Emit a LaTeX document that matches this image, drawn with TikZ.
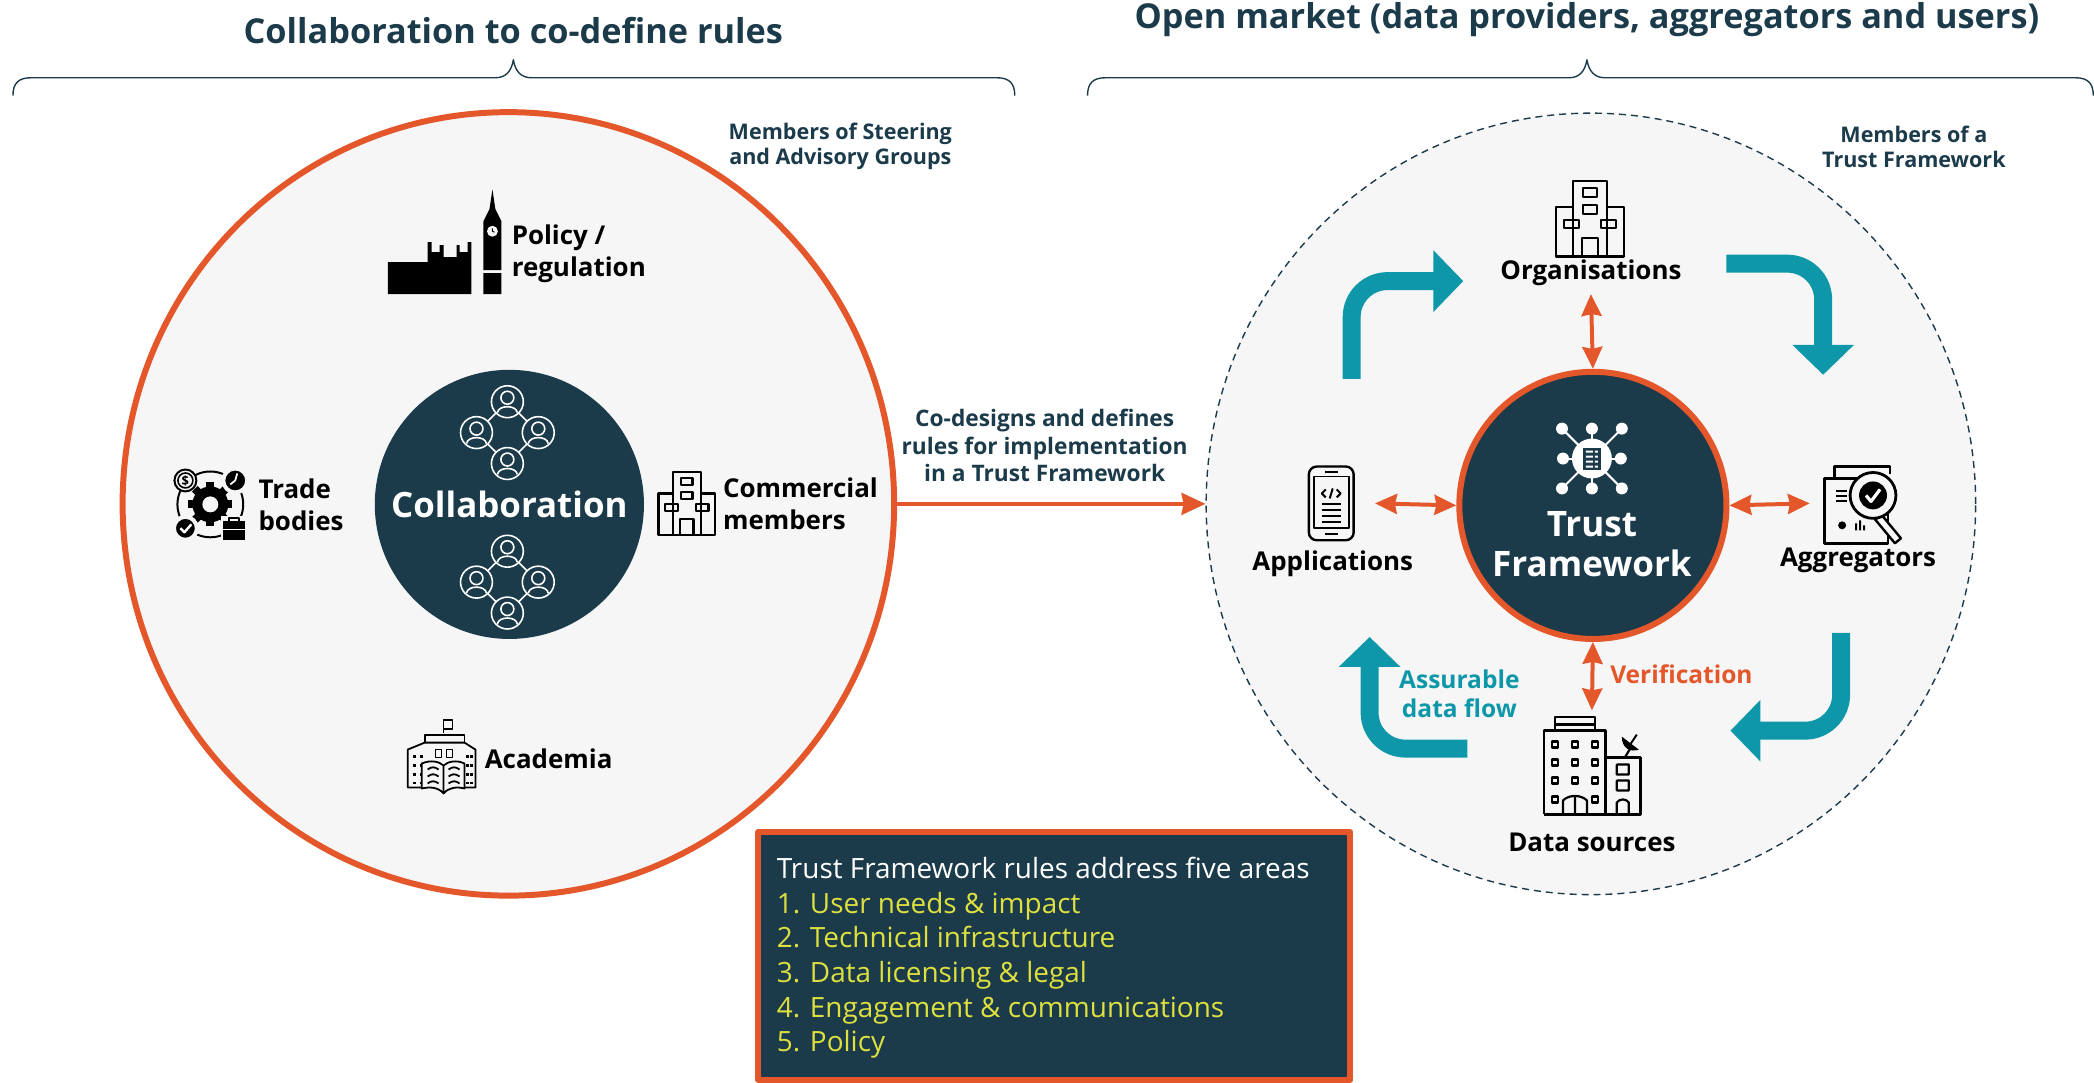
\documentclass[tikz,border=0pt]{standalone}
\usepackage{fontspec}
\setmainfont{Open Sans}
\usetikzlibrary{arrows.meta,shapes.geometric}
\definecolor{navy}{HTML}{1B3A4A}
\definecolor{rust}{HTML}{E4572B}
\definecolor{teal}{HTML}{0E97A8}
\definecolor{lemon}{HTML}{DDE03F}
\definecolor{pale}{HTML}{F6F6F7}
\begin{document}
\begin{tikzpicture}[line join=round,>=stealth,x=0.5pt,y=-0.5pt]
 \tikzset{member style/.style={inner sep=0pt,font=\fontsize{13}{16}\selectfont\bfseries,text=black},
  note style/.style={inner sep=0pt,align=center,font=\fontsize{10.8}{12.6}\selectfont\bfseries,text=navy},
  title style/.style={inner sep=0pt,font=\fontsize{17.2}{20}\selectfont\bfseries,text=navy},
  hub style/.style={circle,fill=navy,inner sep=0pt,text=white,align=center},
  bi style/.style={{Stealth[length=11pt,width=10pt,inset=1pt]}-{Stealth[length=11pt,width=10pt,inset=1pt]},draw=rust,line width=2pt},
  flow style/.style={-{Triangle[length=15pt,width=30pt]},draw=teal,line width=9pt,rounded corners=18pt},
  icon box/.style={inner sep=0pt,minimum width=#1},
  office/.pic={
   \draw[line width=1.2pt] (-17,-38) rectangle (17,38) (-17,-12) -- (-34,-12) -- (-34,38) -- (34,38) -- (34,-12) -- (17,-12);
   \draw[line width=1.2pt] (-7,-31) rectangle (7,-22) (-7,-14) rectangle (7,-5) (-26,1) rectangle (-11,9) (11,1) rectangle (26,9) (-8,38) -- (-8,19) -- (8,19) -- (8,38);
  },
  peer/.pic={
   \draw[white,line width=0.8pt] (0,0) circle (16) (0,-4) circle (6.5);
   \draw[white,line width=0.8pt] (-10,11) .. controls (-9,3) and (9,3) .. (10,11);
  },
  circle group/.pic={
   \draw[white,line width=0.8pt] (-11,-20) -- (-20,-11) (11,-20) -- (20,-11) (-20,11) -- (-11,20) (20,11) -- (11,20);
   \path (0,-31) pic {peer} (-31,0) pic {peer} (31,0) pic {peer} (0,31) pic {peer};
  }}
 % outer circles
 \node[ellipse,draw=rust,fill=pale,line width=3pt,minimum width=387pt,minimum height=393pt,inner sep=0pt] (left) at (510,505.5) {};
 \node[ellipse,draw=navy,fill=pale,line width=0.7pt,dash pattern=on 3.5pt off 2.5pt,minimum width=386pt,minimum height=392pt,inner sep=0pt] (right) at (1596,505.5) {};
 \draw[->,draw=rust,line width=1.8pt,-{Stealth[length=12pt,width=11pt,inset=1pt]}] (left.east) -- (right.west);
 % titles and braces
 \node[title style] (lefttitle) at (515,31) {Collaboration to co-define rules};
 \node[title style] (righttitle) at (1592,20) {Open market (data providers, aggregators and users)};
 \foreach \xa/\xb/\xc in {13/515/1018,1091/1592/2100}
  \draw[navy,line width=0.7pt] (\xa,96) .. controls (\xa,84) and (\xa+5,78) .. (\xa+18,78) -- (\xb-18,78) .. controls (\xb-8,78) and (\xb-2,72) .. (\xb,60) .. controls (\xb+2,72) and (\xb+8,78) .. (\xb+18,78) -- (\xc-18,78) .. controls (\xc-5,78) and (\xc,84) .. (\xc,96);
 \node[note style] (steering) at (843,147) {Members of Steering\\and Advisory Groups};
 \node[note style] (membersof) at (1920,147) {Members of a\\Trust Framework};
 \node[note style,font=\fontsize{11.4}{13.9}\selectfont\bfseries] (codesign) at (1048,447) {Co-designs and defines\\rules for implementation\\in a Trust Framework};
 % left hub
 \node[hub style,minimum size=135pt,font=\fontsize{17.5}{20}\selectfont\bfseries] (collab) at (511,506) {Collaboration};
 \path (509,434) pic {circle group} (509,584) pic {circle group};
 \node[member style,anchor=west,align=left] (policy) at (513,255) {Policy /\\regulation};
 \node[member style,anchor=west,align=left] (trade) at (259,506) {Trade\\bodies};
 \node[member style,anchor=west,align=left] (commercial) at (725,505) {Commercial\\members};
 \node[member style,anchor=west] (academia) at (486,761) {Academia};
 % parliament
 \fill (389,263) -- (429,263) -- (429,243) -- (433,243) -- (433,253) -- (441,253) -- (441,246) -- (445,246) -- (445,258) -- (458,258) -- (458,246) -- (461,246) -- (461,253) -- (469,253) -- (469,243) -- (473,243) -- (473,295) -- (389,295) -- cycle;
 \fill (494,190) -- (497,210) -- (503,222) -- (503,271) -- (485,271) -- (485,222) -- (491,210) -- cycle (485,274) rectangle (503,295);
 \fill[pale] (494,232) circle (5.5);
 \draw[line width=0.5pt] (494,232) -- (494,229) (494,232) -- (496,233);
 % trade bodies
 \draw[line width=1pt] (211,506) circle (33);
 \foreach \a in {0,45,...,315} \fill[rotate around={\a:(211,506)}] (207,484) rectangle (215,492);
 \fill (211,506) circle (18);
 \fill[pale] (211,506) circle (8);
 \filldraw[fill=pale,line width=1pt] (186,482) circle (11);
 \draw[line width=0.8pt] (186,482) circle (7.5);
 \node[inner sep=0pt,font=\fontsize{6.5}{7}\selectfont\bfseries] (dollar) at (186,482) {\$};
 \filldraw[draw=pale,line width=2pt] (236,482) circle (12);
 \draw[white,line width=0.9pt] (236,482) -- (238,475) (236,482) -- (231,486);
 \filldraw[draw=pale,line width=2pt] (186,530) circle (11.5);
 \draw[white,line width=1.2pt] (181,530) -- (185,534) -- (192,526);
 \fill[pale] (222,518) rectangle (248,542);
 \draw[line width=1pt] (230,523) -- (230,520) -- (240,520) -- (240,523);
 \fill (224,523) rectangle (246,542);
 \draw[white,line width=0.7pt] (224,531) -- (246,531);
 % commercial
 \path (689,505) pic[scale=0.83] {office};
 % academia
 \draw[line width=0.9pt] (445,735) -- (445,722) -- (454,722) -- (454,731) -- (445,731);
 \draw[line width=0.9pt] (426,745) -- (426,737) -- (466,737) -- (466,745);
 \draw[line width=0.9pt] (423,790) -- (409,790) -- (409,752) -- (426,745) -- (466,745) -- (477,752) -- (477,790) -- (466,790);
 \foreach \yy in {757,766,775,784} \foreach \xx in {414,421,467,472} \fill (\xx,\yy) rectangle (\xx+3,\yy+3);
 \draw[line width=0.7pt] (437,752) rectangle (443,760) (448,752) rectangle (454,760);
 \filldraw[fill=pale,line width=0.9pt] (423,766) .. controls (432,762) and (441,764) .. (445,768) .. controls (449,764) and (458,762) .. (466,766) -- (466,791) .. controls (458,789) and (450,790) .. (445,796) .. controls (440,790) and (432,789) .. (423,791) -- cycle (445,768) -- (445,796);
 \foreach \yy in {772,779,786} \draw[line width=0.9pt] (429,\yy) .. controls (433,\yy-3) and (436,\yy-3) .. (440,\yy) (450,\yy) .. controls (454,\yy-3) and (457,\yy-3) .. (461,\yy);
 % right hub
 \node[hub style,draw=rust,line width=3pt,minimum size=134pt,font=\fontsize{17.6}{20}\selectfont\bfseries,text depth=0pt] (trust) at (1598,507) {};
 \node[inner sep=0pt,align=center,text=white,font=\fontsize{17.6}{20}\selectfont\bfseries] (trusttext) at (1597,546) {Trust\\Framework};
 \foreach \x/\y in {-30/-30,0/-30,30/-30,-29/0,29/0,-30/30,0/30,30/30} {
  \draw[white,line width=1pt] (1597,460) -- (1597+\x,460+\y);
  \fill[white] (1597+\x,460+\y) circle (6);}
 \fill[white] (1597,460) circle (20);
 \fill[navy] (1588,449) rectangle (1606,471);
 \foreach \y in {452,457,462,467} \fill[white] (1591,\y) rectangle (1598,\y+2) (1600,\y) rectangle (1603,\y+2);
 % members on the right
 \node[member style,outer sep=4pt] (org) at (1596,274) {Organisations};
 \node[member style] (applications) at (1337,566) {Applications};
 \node[member style] (aggregators) at (1864,562) {Aggregators};
 \node[member style] (datasources) at (1597,845) {Data sources};
 \node[icon box=43pt] (phone) at (1336,505) {};
 \node[icon box=52pt] (lens) at (1868,505) {};
 \node[inner sep=0pt,minimum height=52pt] (tower) at (1597,765) {};
 \draw[bi style] (org.south) -- (trust.north);
 \draw[bi style] (phone.east) -- (trust.west);
 \draw[bi style] (trust.east) -- (lens.west);
 \draw[bi style] (trust.south) -- (tower.north);
 \node[inner sep=0pt,anchor=west,text=rust,font=\fontsize{12.3}{15}\selectfont\bfseries] (verify) at (1615,676) {Verification};
 \node[inner sep=0pt,align=center,text=teal,font=\fontsize{12.3}{14.2}\selectfont\bfseries] (assure) at (1464,696) {Assurable\\data flow};
 % organisations
 \path (1595,219.5) pic {office};
 % phone
 \draw[line width=1.2pt,rounded corners=4pt] (1313,468) rectangle (1358,542);
 \draw[line width=0.9pt] (1318,478) rectangle (1353,530);
 \draw[line width=1pt] (1329,474) -- (1342,474) (1329,536) -- (1342,536);
 \draw[line width=1pt] (1330,491) -- (1326,495) -- (1330,499) (1341,491) -- (1345,495) -- (1341,499) (1337,490) -- (1334,500);
 \foreach \y in {506,512,518,524} \draw[line width=1pt] (1326,\y) -- (1345,\y);
 % aggregators
 \draw[line width=1.4pt] (1840,480) -- (1840,468) -- (1896,468) -- (1896,476);
 \filldraw[fill=pale,line width=1.4pt] (1830,480) rectangle (1894,545);
 \foreach \y in {493,498,503} \draw[line width=1pt] (1842,\y) -- (1853,\y);
 \fill (1848,527) circle (4);
 \fill (1861,525) rectangle (1863,532) (1865,522) rectangle (1867,532) (1869,527) rectangle (1871,532);
 \filldraw[fill=pale,line width=1.2pt] (1888,517) -- (1907,540) -- (1901,545) -- (1881,521) -- cycle;
 \filldraw[fill=pale,line width=1.4pt] (1879,497) circle (23);
 \fill (1879,497) circle (14);
 \draw[white,line width=1.6pt] (1872,497) -- (1877,503) -- (1886,491);
 % data sources
 \draw[line width=1.2pt] (1560,733) -- (1560,719) -- (1600,719) -- (1600,733) (1560,727) -- (1600,727);
 \draw[line width=1.4pt] (1549,817) -- (1549,733) -- (1611,733) -- (1611,817) (1611,760) -- (1646,760) -- (1646,817) -- (1549,817);
 \foreach \xx in {1560,1580,1600} \foreach \yy in {747,765,783} \draw[line width=1.2pt] (\xx-3,\yy-3) rectangle (\xx+3,\yy+3);
 \draw[line width=1.2pt] (1557,799) rectangle (1563,805) (1597,799) rectangle (1603,805);
 \draw[line width=1.1pt] (1568,817) -- (1568,803) .. controls (1574,797) and (1586,797) .. (1592,803) -- (1592,817) (1580,800) -- (1580,817);
 \draw[line width=1.1pt] (1622,767) rectangle (1634,777) (1622,783) rectangle (1634,793) (1622,817) -- (1622,805) .. controls (1625,801) and (1631,801) .. (1634,805) -- (1634,817);
 \draw[line width=1.1pt] (1630,760) -- (1636,750);
 \fill (1627,739) .. controls (1627,751) and (1636,755) .. (1644,752) -- cycle;
 \draw[line width=1pt] (1636,746) -- (1642,737);
 % assurable data flow
 \coordinate (flowa) at (1356,380); \coordinate (flowb) at (1468,282);
 \coordinate (flowc) at (1732,264.5); \coordinate (flowd) at (1829,376);
 \coordinate (flowe) at (1847,635); \coordinate (flowf) at (1736,733);
 \coordinate (flowg) at (1472,751); \coordinate (flowh) at (1374,639);
 \draw[flow style] (flowa) |- (flowb);
 \draw[flow style] (flowc) -| (flowd);
 \draw[flow style] (flowe) |- (flowf);
 \draw[flow style] (flowg) -| (flowh);
 % rules box
 \node[rectangle,draw=rust,fill=navy,line width=3pt,minimum width=297pt,minimum height=124pt,inner sep=0pt] (rules) at (1057.5,959) {};
 \node[inner sep=0pt,anchor=west,align=left,text=white,font=\fontsize{14}{17.35}\selectfont] (rulestext) at (779,961) {Trust Framework rules address five areas\\\color{lemon}1. User needs \& impact\\\color{lemon}2. Technical infrastructure\\\color{lemon}3. Data licensing \& legal\\\color{lemon}4. Engagement \& communications\\\color{lemon}5. Policy};
 \useasboundingbox (0,0) rectangle (2094,1086);
\end{tikzpicture}
\end{document}
